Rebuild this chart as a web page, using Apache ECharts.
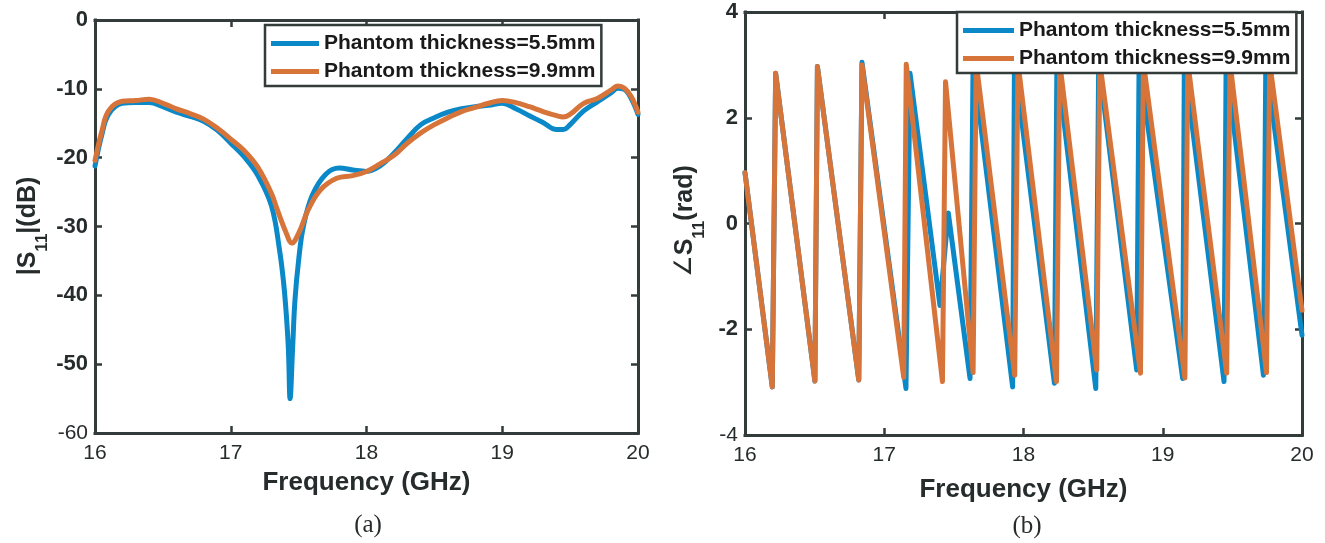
<!DOCTYPE html>
<html><head><meta charset="utf-8">
<script src="https://cdn.jsdelivr.net/npm/echarts@6/dist/echarts.min.js"></script>
<style>html,body{margin:0;padding:0;background:#fff}#c{width:1325px;height:543px}</style>
</head><body><div id="c"></div>
<script>
// ---------- data ----------
const seriesNames = ['Phantom thickness=5.5mm', 'Phantom thickness=9.9mm'];

// (a) |S11| in dB
const magFreq55 = [16.0,16.05,16.1,16.2,16.3,16.4,16.5,16.6,16.7,16.8,16.9,17.0,17.1,17.2,17.3,17.36,17.39,17.41,17.425,17.437,17.455,17.473,17.5,17.535,17.6,17.7,17.8,17.9,18.0,18.1,18.2,18.3,18.4,18.5,18.6,18.7,18.8,18.9,19.0,19.1,19.2,19.3,19.4,19.45,19.5,19.6,19.7,19.8,19.85,19.9,19.95,20.0];
const mag55     = [-21.2,-16.7,-13.7,-12.1,-12.0,-12.0,-12.6,-13.4,-14.0,-14.7,-16.0,-17.9,-19.9,-22.6,-27.0,-33.5,-38.3,-43.0,-48.0,-55.0,-48.0,-40.7,-34.9,-30.0,-25.5,-22.4,-21.5,-21.8,-22.0,-21.2,-19.4,-17.2,-15.2,-14.2,-13.4,-12.9,-12.6,-12.4,-12.1,-12.9,-13.9,-14.9,-15.9,-15.9,-15.2,-13.2,-11.9,-10.6,-9.9,-10.1,-11.4,-13.7];
const magFreq99 = [16.0,16.05,16.1,16.2,16.3,16.4,16.5,16.6,16.7,16.8,16.9,17.0,17.1,17.2,17.3,17.34,17.41,17.45,17.5,17.57,17.66,17.78,17.9,18.0,18.1,18.2,18.3,18.4,18.5,18.6,18.7,18.8,18.9,19.0,19.1,19.2,19.3,19.4,19.45,19.5,19.6,19.7,19.8,19.85,19.9,19.95,20.0];
const mag99     = [-20.4,-16.2,-13.2,-11.8,-11.7,-11.5,-12.1,-12.9,-13.6,-14.4,-15.7,-17.3,-19.0,-21.4,-25.2,-27.4,-31.0,-32.4,-31.0,-27.6,-24.7,-23.0,-22.6,-22.0,-20.9,-19.7,-17.9,-16.4,-15.2,-14.2,-13.3,-12.7,-12.1,-11.7,-12.0,-12.6,-13.3,-13.9,-14.1,-13.7,-12.1,-11.4,-10.2,-9.6,-9.9,-11.1,-13.4];

// (b) phase of S11 in rad
const phFreq55 = [16.0,16.196,16.22,16.502,16.52,16.817,16.84,17.156,17.185,17.40,17.46,17.616,17.638,17.922,17.935,18.222,18.24,18.519,18.54,18.813,18.83,19.143,19.155,19.44,19.455,19.723,19.74,20.0];
const ph55     = [0.96,-3.09,2.84,-2.98,2.97,-2.96,3.05,-3.12,2.84,-1.55,0.2,-2.93,3.05,-3.09,3.05,-3.02,3.05,-3.12,3.05,-2.77,3.05,-2.93,3.05,-2.99,3.05,-2.87,3.05,-2.11];
const phFreq99 = [16.0,16.196,16.22,16.502,16.52,16.817,16.84,17.14,17.158,17.418,17.44,17.638,17.66,17.937,17.96,18.237,18.26,18.526,18.548,18.84,18.861,19.159,19.18,19.459,19.483,19.745,19.768,20.0];
const ph99     = [0.96,-3.09,2.84,-2.98,2.97,-2.96,3.0,-2.91,3.01,-2.99,2.68,-2.82,3.05,-2.87,3.05,-2.99,3.05,-2.77,3.05,-2.83,3.05,-2.92,3.05,-2.83,3.05,-2.82,3.05,-1.64];

const freqTicks = [16, 17, 18, 19, 20];
const magTicks = [-60, -50, -40, -30, -20, -10, 0];
const phTicks = [-4, -2, 0, 2, 4];
const xTitle = 'Frequency (GHz)';
const captions = ['(a)', '(b)'];

// ---------- style ----------
const FONT = '"Liberation Sans", Arial, Helvetica, sans-serif';
const SERIF = '"Liberation Serif", "Times New Roman", serif';
const FRAME = '#333b3b';
const TXT = '#262b2b';
const BLUE = '#0a88c8';
const ORANGE = '#d6743a';

const zip = (xs, ys) => xs.map((x, i) => [x, ys[i]]);

function xAx(grid, pos, showLabel) {
  return {
    type: 'value', gridIndex: grid, position: pos,
    min: freqTicks[0], max: freqTicks[freqTicks.length - 1], interval: 1,
    axisLine: { show: true, onZero: false, lineStyle: { color: FRAME, width: 3, cap: 'square' } },
    axisTick: { show: true, inside: true, length: 7, lineStyle: { color: FRAME, width: 2.5 } },
    axisLabel: { show: showLabel, margin: 10, color: TXT, fontFamily: FONT, fontSize: 21 },
    splitLine: { show: false }
  };
}
function yAx(grid, pos, ticks, showLabel) {
  const mn = ticks[0], mx = ticks[ticks.length - 1];
  return {
    type: 'value', gridIndex: grid, position: pos,
    min: mn, max: mx, interval: ticks[1] - ticks[0],
    axisLine: { show: true, onZero: false, lineStyle: { color: FRAME, width: 3, cap: 'square' } },
    axisTick: { show: true, inside: true, length: 7, lineStyle: { color: FRAME, width: 2.5 } },
    axisLabel: {
      show: showLabel, margin: 7, color: TXT,
      formatter: v => (v === mn ? '{r|' + v + '}' : '{b|' + v + '}'),
      rich: {
        b: { fontFamily: FONT, fontWeight: 'bold', fontSize: 22, color: TXT },
        r: { fontFamily: FONT, fontWeight: 'normal', fontSize: 21, color: TXT }
      }
    },
    splitLine: { show: false }
  };
}
function legendAt(left, top, iw) {
  return {
    orient: 'vertical', left: left, top: top, data: seriesNames,
    icon: 'rect', itemWidth: iw, itemHeight: 5, itemGap: 7,
    padding: [8, 6, 4, 6], borderColor: FRAME, borderWidth: 2.5, backgroundColor: '#fff',
    selectedMode: false, itemStyle: { borderWidth: 0 },
    textStyle: { fontFamily: FONT, fontWeight: 'bold', fontSize: 21, lineHeight: 21, color: '#1a1a1a' }
  };
}
function line(name, data, color, xi, smooth) {
  return {
    type: 'line', name: name, data: data, xAxisIndex: xi, yAxisIndex: xi,
    showSymbol: false, symbol: 'none', smooth: smooth,
    color: color,
    lineStyle: { color: color, width: 5, join: 'round', cap: 'round' }
  };
}
function yTitle(x, y, rich) {
  return {
    type: 'text', x: x, y: y, rotation: Math.PI / 2, z: 10,
    style: {
      text: rich, align: 'center', verticalAlign: 'middle', fill: TXT,
      rich: {
        m: { fontFamily: FONT, fontWeight: 'bold', fontSize: 25, lineHeight: 25, verticalAlign: 'top', fill: TXT },
        a: { fontFamily: '"DejaVu Sans", ' + FONT, fontWeight: 'normal', fontSize: 24, lineHeight: 25, verticalAlign: 'top', fill: TXT },
        s: { fontFamily: FONT, fontWeight: 'bold', fontSize: 17, lineHeight: 17, verticalAlign: 'bottom', fill: TXT },
        g: { fontSize: 1, lineHeight: 35 }
      }
    }
  };
}
function plainText(x, y, text, font) {
  return { type: 'text', x: x, y: y, z: 10, style: { text: text, font: font, fill: TXT, align: 'center', verticalAlign: 'middle' } };
}

const chart = echarts.init(document.getElementById('c'), null, { renderer: 'canvas' });
chart.setOption({
  animation: false,
  backgroundColor: '#fff',
  grid: [
    { left: 95, top: 20, width: 543, height: 413 },
    { left: 745, top: 12, width: 557, height: 423 }
  ],
  xAxis: [xAx(0, 'bottom', true), xAx(0, 'top', false), xAx(1, 'bottom', true), xAx(1, 'top', false)],
  yAxis: [yAx(0, 'left', magTicks, true), yAx(0, 'right', magTicks, false), yAx(1, 'left', phTicks, true), yAx(1, 'right', phTicks, false)],
  legend: [legendAt(265, 25, 48), legendAt(957, 12, 51)],
  series: [
    line(seriesNames[0], zip(magFreq55, mag55), BLUE, 0, 0.4),
    line(seriesNames[1], zip(magFreq99, mag99), ORANGE, 0, 0.4),
    line(seriesNames[0], zip(phFreq55, ph55), BLUE, 2, false),
    line(seriesNames[1], zip(phFreq99, ph99), ORANGE, 2, false)
  ],
  graphic: [
    plainText(366.5, 483, xTitle, 'bold 26px ' + FONT),
    plainText(1023.5, 490, xTitle, 'bold 26px ' + FONT),
    plainText(368, 525, captions[0], '25px ' + SERIF),
    plainText(1027, 526, captions[1], '25px ' + SERIF),
    yTitle(33.5, 226, '{m||S}{s|11}{m||(dB)}{g|\u200b}'),
    yTitle(690, 221, '{a|\u2220}{m|S}{s|11}{m|(rad)}{g|\u200b}')
  ]
});
</script></body></html>
